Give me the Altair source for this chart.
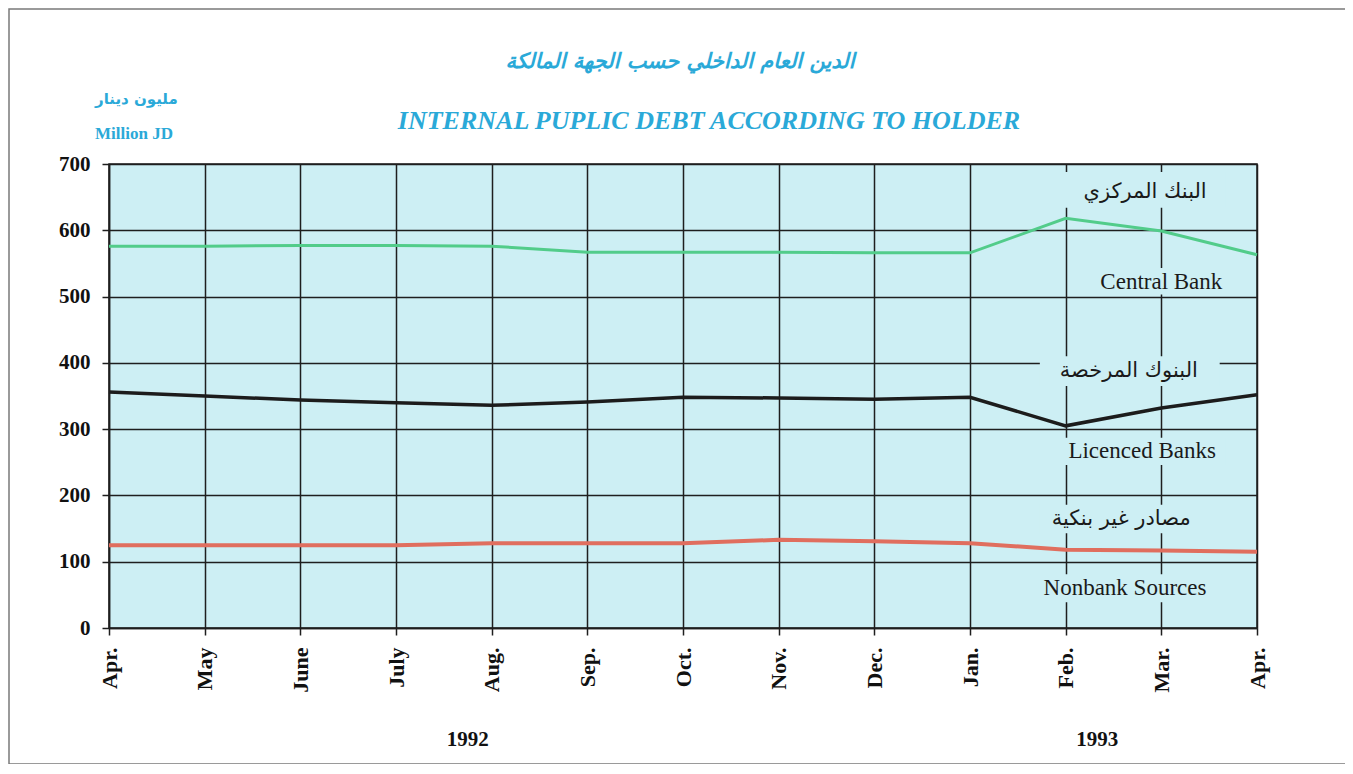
import json
import altair as alt
import pandas as pd

# ---- data ----
months = ["Apr.", "May", "June", "July", "Aug.", "Sep.", "Oct.", "Nov.", "Dec.", "Jan.", "Feb.", "Mar.", "Apr."]
central_bank = [576, 576, 577, 577, 576, 567, 567, 567, 566, 566, 618, 599, 563]
licenced_banks = [356, 350, 344, 340, 336, 341, 348, 347, 345, 348, 305, 332, 352]
nonbank_sources = [125, 125, 125, 125, 128, 128, 128, 133, 131, 128, 118, 117, 115]
series_names = ["Central Bank", "Licenced Banks", "Nonbank Sources"]
series_colors = ["#52cc8a", "#1c1c1c", "#e06e5e"]
series_widths = [3, 4, 3]
y_ticks = [0, 100, 200, 300, 400, 500, 600, 700]

years = ["1992", "1993"]
year_pos = [3.75, 10.33]  # position in month-index units

ann_text = ["البنك المركزي", "Central Bank", "البنوك المرخصة", "Licenced Banks", "مصادر غير بنكية", "Nonbank  Sources"]
ann_font = ["DejaVu Sans", "Liberation Serif", "DejaVu Sans", "Liberation Serif", "DejaVu Sans", "Liberation Serif"]
ann_x = [10.83, 11.0, 10.66, 10.8, 10.58, 10.62]
ann_y = [658, 522, 388, 267, 164, 60]
box_x1 = [9.84, 10.24, 9.73, 9.94, 9.73, 9.63]
box_x2 = [11.67, 11.72, 11.61, 11.67, 11.51, 11.63]
box_y1 = [688, 543, 410, 287, 186, 81]
box_y2 = [634, 503, 365, 246, 143, 39]

title_ar = "الدين العام الداخلي حسب الجهة المالكة"
title_en = "INTERNAL PUPLIC DEBT ACCORDING TO HOLDER"
unit_ar = "مليون دينار"
unit_en = "Million JD"

BG = "#cdeff4"
CYAN = "#2aa9d8"
GRID = "#1e1e1e"

# ---- tables ----
rows = []
for name, vals in zip(series_names, [central_bank, licenced_banks, nonbank_sources]):
    for i, v in enumerate(vals):
        rows.append({"idx": i, "value": v, "series": name})
df = pd.DataFrame(rows)

ann = pd.DataFrame({"text": ann_text, "font": ann_font, "x": ann_x, "y": ann_y,
                    "x1": box_x1, "x2": box_x2, "y1": box_y1, "y2": box_y2})
yrs = pd.DataFrame({"year": years, "x": year_pos})

label_expr = json.dumps(months) + "[datum.value]"

x_scale = alt.Scale(domain=[0, 12], nice=False, zero=False)
y_scale = alt.Scale(domain=[0, 700], nice=False)

x_axis = alt.Axis(values=list(range(13)), labelExpr=label_expr, labelAngle=-90,
                  labelAlign="right", labelBaseline="middle", labelFont="Liberation Serif",
                  labelFontWeight="bold", labelFontSize=22, labelColor="#111",
                  labelPadding=12, tickSize=7, tickColor=GRID, tickWidth=1.5,
                  domainColor=GRID, domainWidth=1.5, grid=True, gridColor=GRID,
                  gridWidth=1.5, gridOpacity=1, title=None)
y_axis = alt.Axis(values=y_ticks, labelFont="Liberation Serif", labelFontWeight="bold",
                  labelFontSize=21, labelColor="#111", labelPadding=12, tickSize=7,
                  tickColor=GRID, tickWidth=1.5, domainColor=GRID, domainWidth=1.5,
                  grid=True, gridColor=GRID, gridWidth=1.5, gridOpacity=1, title=None)

lines = alt.Chart(df).mark_line(interpolate="linear").encode(
    x=alt.X("idx:Q", scale=x_scale, axis=x_axis),
    y=alt.Y("value:Q", scale=y_scale, axis=y_axis),
    color=alt.Color("series:N", scale=alt.Scale(domain=series_names, range=series_colors), legend=None),
    strokeWidth=alt.StrokeWidth("series:N", scale=alt.Scale(domain=series_names, range=series_widths), legend=None),
)

boxes = alt.Chart(ann).mark_rect(fill=BG).encode(
    x=alt.X("x1:Q", scale=x_scale), x2="x2:Q",
    y=alt.Y("y1:Q", scale=y_scale), y2="y2:Q",
)

labels_ar = alt.Chart(ann[ann["font"] == "DejaVu Sans"]).mark_text(
    fontSize=21, color="#1a1a1a", baseline="middle", align="center", font="DejaVu Sans").encode(
    x=alt.X("x:Q", scale=x_scale), y=alt.Y("y:Q", scale=y_scale), text="text:N")
labels_en = alt.Chart(ann[ann["font"] == "Liberation Serif"]).mark_text(
    fontSize=23, color="#1a1a1a", baseline="middle", align="center", font="Liberation Serif").encode(
    x=alt.X("x:Q", scale=x_scale), y=alt.Y("y:Q", scale=y_scale), text="text:N")

year_text = alt.Chart(yrs).mark_text(fontSize=21, fontWeight="bold", font="Liberation Serif",
                                     color="#111", baseline="middle", align="center").encode(
    x=alt.X("x:Q", scale=x_scale), y=alt.value(576), text="year:N")


def fixed_text(txt, x, y, **kw):
    return alt.Chart(pd.DataFrame({"t": [txt]})).mark_text(**kw).encode(
        x=alt.value(x), y=alt.value(y), text="t:N")


t_ar = fixed_text(title_ar, 571, -102, font="DejaVu Sans", fontSize=21, fontStyle="italic",
                  fontWeight="bold", color=CYAN, align="center", baseline="middle")
t_en = fixed_text(title_en, 600, -43, font="Liberation Serif", fontSize=26, fontStyle="italic",
                  fontWeight="bold", color=CYAN, align="center", baseline="middle")
u_ar = fixed_text(unit_ar, -14, -65, font="DejaVu Sans", fontSize=15, fontWeight="bold",
                  color=CYAN, align="left", baseline="middle")
u_en = fixed_text(unit_en, -14, -30, font="Liberation Serif", fontSize=17, fontWeight="bold",
                  color=CYAN, align="left", baseline="middle")

frame = alt.Chart(pd.DataFrame({"a": [0]})).mark_rect(fillOpacity=0, stroke="#7a7a7a", strokeWidth=1.5).encode(
    x=alt.value(-100), x2=alt.value(1237), y=alt.value(-155), y2=alt.value(600))

chart = alt.layer(
    boxes, lines, labels_ar, labels_en, year_text, t_ar, t_en, u_ar, u_en, frame
).properties(
    width=1148, height=464,
    autosize=alt.AutoSizeParams(type="none"),
    padding={"left": 101, "top": 156, "right": 88, "bottom": 136},
    background="white",
).configure_view(fill=BG, stroke=GRID, strokeWidth=1.5)

chart.save("out.html", embed_options={"renderer": "svg", "actions": False})
